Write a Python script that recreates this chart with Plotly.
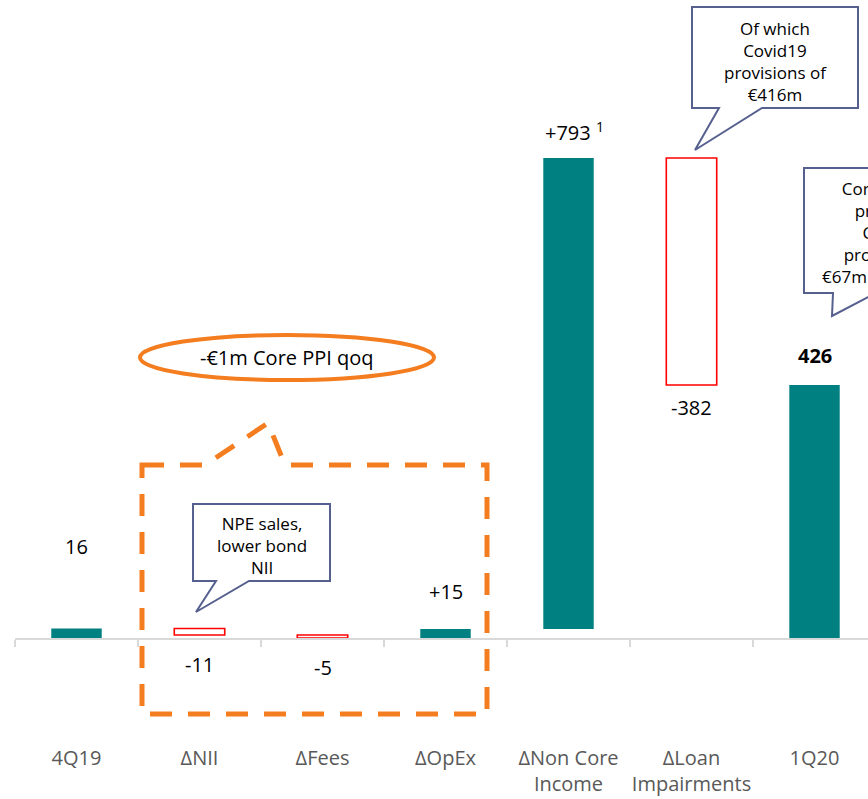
import plotly.graph_objects as go

# Profit bridge 4Q19 -> 1Q20 (€m)
categories = ["4Q19", "ΔNII", "ΔFees", "ΔOpEx", "ΔNon Core<br>Income", "ΔLoan<br>Impairments", "1Q20"]
values = [16, -11, -5, 15, 793, -382, 426]
measures = ["total", "relative", "relative", "relative", "relative", "relative", "total"]
value_labels = ["16", "-11", "-5", "+15", "+793 <sup>1</sup>", "-382", "<b>426</b>"]

TEAL = "#008080"
RED = "#FF0000"
ORANGE = "#F47D20"
SLATE = "#55608F"
FONT = "Open Sans"

W, H = 868, 799
ML, MR, MT, MB = 15, 0, 0, 161
PW, PH = W - ML - MR, H - MT - MB


def px(x):
    return (x - ML) / PW


def py(y):
    return (H - MB - y) / PH


# waterfall geometry
bases, heights, filled = [], [], []
running = 0
for v, m in zip(values, measures):
    if m == "total":
        bases.append(0)
        heights.append(v)
        filled.append(True)
        running = v
    else:
        lo = running + min(v, 0)
        bases.append(lo)
        heights.append(abs(v))
        filled.append(v > 0)
        running += v

fig = go.Figure()
fig.add_trace(go.Bar(
    x=[c for c, f in zip(categories, filled) if f],
    y=[h for h, f in zip(heights, filled) if f],
    base=[b for b, f in zip(bases, filled) if f],
    marker=dict(color=TEAL, line=dict(width=0)),
    width=0.41, cliponaxis=False, hoverinfo="skip",
))
fig.add_trace(go.Bar(
    x=[c for c, f in zip(categories, filled) if not f],
    y=[h for h, f in zip(heights, filled) if not f],
    base=[b for b, f in zip(bases, filled) if not f],
    marker=dict(color="white", line=dict(color=RED, width=1.6)),
    width=0.41, cliponaxis=False, hoverinfo="skip",
))

# value labels
annotations = []
label_shift = [82, -29, -29, 38, 27, -23, 29]
for i, (c, txt) in enumerate(zip(categories, value_labels)):
    top = bases[i] + heights[i]
    ypos = top if label_shift[i] > 0 else bases[i]
    annotations.append(dict(
        x=c, y=ypos, xref="x", yref="y", text=txt, showarrow=False,
        xanchor="center", yanchor="middle",
        yshift=label_shift[i], xshift=6 if "sup" in txt else 0,
        font=dict(family=FONT, size=20, color="#000000"),
    ))

# orange highlight for the core PPI components
annotations.append(dict(
    x=px(287), y=py(358), xref="paper", yref="paper", text="-€1m Core PPI qoq",
    xanchor="center", yanchor="middle",
    showarrow=False, font=dict(family=FONT, size=20, color="#000000"),
))

shapes = [
    dict(type="circle", xref="paper", yref="paper",
         x0=px(140), x1=px(434), y0=py(380), y1=py(335),
         line=dict(color=ORANGE, width=4)),
]


def path(points):
    return "M " + " L ".join(f"{px(a):.5f},{py(b):.5f}" for a, b in points) + " Z"


shapes.append(dict(
    type="path", xref="paper", yref="paper",
    path=path([(142, 465), (205, 465), (268, 423), (285, 465), (487, 465),
               (487, 714), (142, 714)]),
    line=dict(color=ORANGE, width=5, dash="22px,16px"),
))

# callouts
callouts = [
    dict(box=(193, 504, 330, 581), ptr=(216, 249, 196, 612),
         text="NPE sales,<br>lower bond<br>NII", cx=262, cy=545),
    dict(box=(692, 7, 858, 108), ptr=(719, 762, 695, 150),
         text="Of which<br>Covid19<br>provisions of<br>€416m", cx=775, cy=61),
    dict(box=(804, 168, 969, 293), ptr=(833, 876, 832, 316),
         text="Core profit<br>prior to<br>Covid<br>provisions<br>€67m excluding",
         cx=884, cy=232),
]
for co in callouts:
    x0, y0, x1, y1 = co["box"]
    pa, pb, tx, ty = co["ptr"]
    shapes.append(dict(
        type="path", xref="paper", yref="paper",
        path=path([(x0, y0), (x1, y0), (x1, y1), (pb, y1), (tx, ty), (pa, y1), (x0, y1)]),
        line=dict(color=SLATE, width=2), fillcolor="white",
    ))
    annotations.append(dict(
        x=px(co["cx"]), y=py(co["cy"]), xref="paper", yref="paper", text=co["text"],
        showarrow=False, align="center", xanchor="center", yanchor="middle",
        font=dict(family=FONT, size=17, color="#000000"),
    ))

fig.update_layout(
    width=W, height=H,
    margin=dict(l=ML, r=MR, t=MT, b=MB, pad=0, autoexpand=False),
    paper_bgcolor="white", plot_bgcolor="white",
    showlegend=False, barmode="overlay",
    annotations=annotations, shapes=shapes,
    xaxis=dict(
        type="category", categoryorder="array", categoryarray=categories,
        range=[-0.5, 6.5 - (876 - 868) / 123],
        showline=True, linecolor="#D9D9D9", linewidth=2,
        ticks="outside", tickson="boundaries", ticklen=7, tickwidth=2, tickcolor="#D9D9D9",
        showgrid=False, zeroline=False, automargin=False, tickangle=0,
        tickfont=dict(family=FONT, size=20, color="#595959"),
        ticklabelstandoff=101,
    ),
    yaxis=dict(range=[0, 1074], visible=False, showgrid=False, zeroline=False),
)

fig.write_html("out.html")
